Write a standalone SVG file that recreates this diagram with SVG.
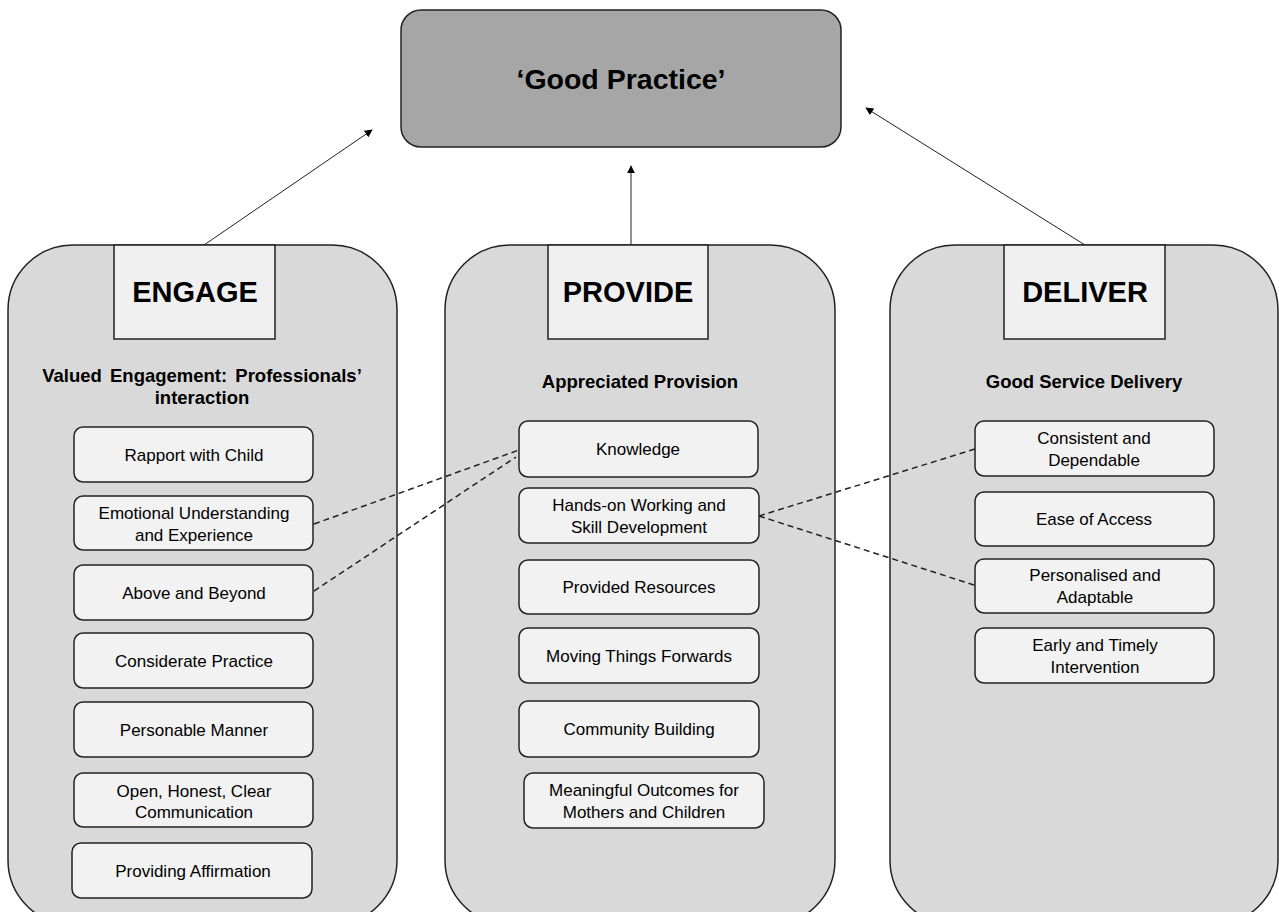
<svg xmlns="http://www.w3.org/2000/svg" width="1279" height="912" viewBox="0 0 1279 912">
<style>
.col{fill:#d9d9d9;stroke:#222;stroke-width:1.5}
.hdr{fill:#f0f0f0;stroke:#222;stroke-width:1.5}
.item{fill:#f2f2f2;stroke:#222;stroke-width:1.5}
.gp{fill:#a6a6a6;stroke:#222;stroke-width:1.5}
text{font-family:"Liberation Sans",Arial,sans-serif;fill:#000;text-anchor:middle}
.ht{font-size:29px;font-weight:bold}
.st{font-size:18.5px;font-weight:bold}
.it{font-size:17px}
.arr{stroke:#222;stroke-width:1;fill:none;marker-end:url(#ah)}
.dash{stroke:#222;stroke-width:1.5;fill:none;stroke-dasharray:6,4}
</style>
<defs>
<marker id="ah" viewBox="0 0 10 10" refX="9" refY="5" markerWidth="8" markerHeight="8" markerUnits="userSpaceOnUse" orient="auto">
<path d="M0,0 L10,5 L0,10 z" fill="#000"/>
</marker>
</defs>
<rect width="1279" height="912" fill="#fff"/>

<g id="good-practice">
<rect class="gp" x="401" y="10" width="440" height="137" rx="20"/>
<text x="621" y="89" style="font-size:28.5px;font-weight:bold">‘Good Practice’</text>
</g>

<g id="engage">
<rect class="col" x="8" y="245" width="389" height="680" rx="65"/>
<rect class="hdr" x="114" y="245" width="161" height="94"/>
<text class="ht" x="195" y="302">ENGAGE</text>
<text class="st" x="202" y="382" word-spacing="3">Valued Engagement: Professionals’</text>
<text class="st" x="202" y="404">interaction</text>
</g>
<g id="e1"><rect class="item" x="74" y="427" width="239" height="55" rx="9"/><text class="it" x="194" y="461">Rapport with Child</text></g>
<g id="e2"><rect class="item" x="74" y="496" width="239" height="54" rx="9"/><text class="it" x="194" y="519">Emotional Understanding</text><text class="it" x="194" y="541">and Experience</text></g>
<g id="e3"><rect class="item" x="74" y="565" width="239" height="55" rx="9"/><text class="it" x="194" y="599">Above and Beyond</text></g>
<g id="e4"><rect class="item" x="74" y="633" width="239" height="55" rx="9"/><text class="it" x="194" y="667">Considerate Practice</text></g>
<g id="e5"><rect class="item" x="74" y="702" width="239" height="55" rx="9"/><text class="it" x="194" y="736">Personable Manner</text></g>
<g id="e6"><rect class="item" x="74" y="773" width="239" height="54" rx="9"/><text class="it" x="194" y="797">Open, Honest, Clear</text><text class="it" x="194" y="818">Communication</text></g>
<g id="e7"><rect class="item" x="72" y="843" width="240" height="55" rx="9"/><text class="it" x="193" y="877">Providing Affirmation</text></g>

<g id="provide">
<rect class="col" x="445" y="245" width="390" height="680" rx="65"/>
<rect class="hdr" x="548" y="245" width="160" height="94"/>
<text class="ht" x="628" y="302">PROVIDE</text>
<text class="st" x="640" y="388">Appreciated Provision</text>
</g>
<g id="p1"><rect class="item" x="519" y="421" width="239" height="56" rx="9"/><text class="it" x="638" y="455">Knowledge</text></g>
<g id="p2"><rect class="item" x="519" y="488" width="240" height="55" rx="9"/><text class="it" x="639" y="511">Hands-on Working and</text><text class="it" x="639" y="533">Skill Development</text></g>
<g id="p3"><rect class="item" x="519" y="560" width="240" height="54" rx="9"/><text class="it" x="639" y="593">Provided Resources</text></g>
<g id="p4"><rect class="item" x="519" y="628" width="240" height="55" rx="9"/><text class="it" x="639" y="662">Moving Things Forwards</text></g>
<g id="p5"><rect class="item" x="519" y="701" width="240" height="56" rx="9"/><text class="it" x="639" y="735">Community Building</text></g>
<g id="p6"><rect class="item" x="524" y="773" width="240" height="55" rx="9"/><text class="it" x="644" y="796">Meaningful Outcomes for</text><text class="it" x="644" y="818">Mothers and Children</text></g>

<g id="deliver">
<rect class="col" x="890" y="245" width="388" height="680" rx="65"/>
<rect class="hdr" x="1004" y="245" width="161" height="94"/>
<text class="ht" x="1085" y="302">DELIVER</text>
<text class="st" x="1084" y="388">Good Service Delivery</text>
</g>
<g id="d1"><rect class="item" x="975" y="421" width="239" height="55" rx="9"/><text class="it" x="1094" y="444">Consistent and</text><text class="it" x="1094" y="466">Dependable</text></g>
<g id="d2"><rect class="item" x="975" y="492" width="239" height="54" rx="9"/><text class="it" x="1094" y="525">Ease of Access</text></g>
<g id="d3"><rect class="item" x="975" y="559" width="239" height="54" rx="9"/><text class="it" x="1095" y="581">Personalised and</text><text class="it" x="1095" y="603">Adaptable</text></g>
<g id="d4"><rect class="item" x="975" y="628" width="239" height="55" rx="9"/><text class="it" x="1095" y="651">Early and Timely</text><text class="it" x="1095" y="673">Intervention</text></g>

<g id="connectors">
<line class="arr" x1="204" y1="245" x2="372" y2="130"/>
<line class="arr" x1="631" y1="245" x2="631" y2="166"/>
<line class="arr" x1="1085" y1="245" x2="866" y2="108"/>
<line class="dash" x1="314" y1="524" x2="519" y2="450"/>
<line class="dash" x1="314" y1="591" x2="516" y2="457"/>
<line class="dash" x1="759" y1="516" x2="975" y2="449"/>
<line class="dash" x1="759" y1="516" x2="974" y2="585"/>
</g>
</svg>
